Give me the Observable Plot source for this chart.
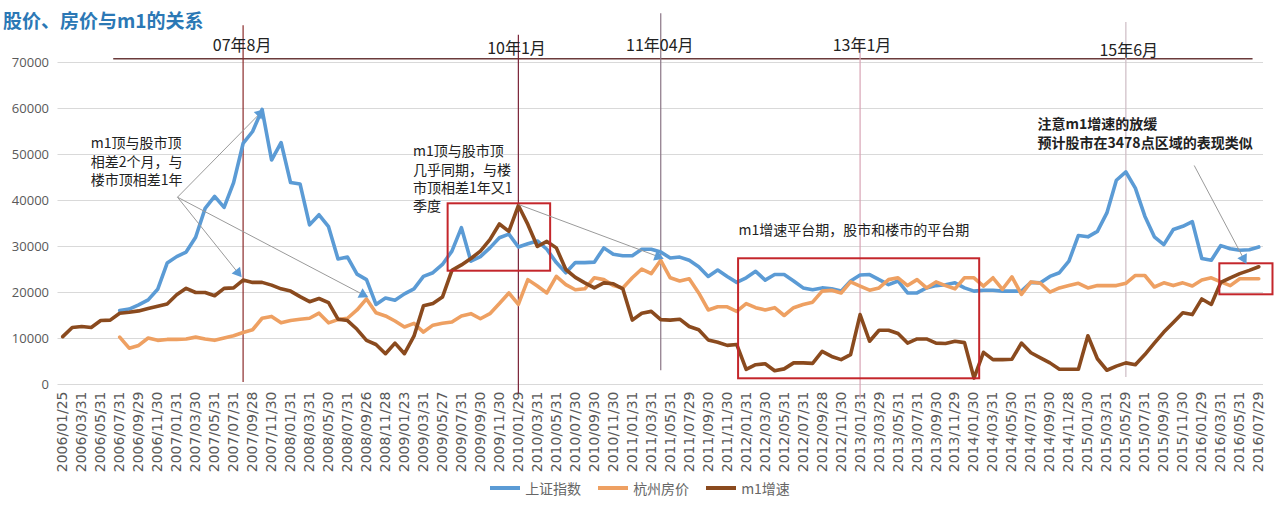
<!DOCTYPE html>
<html><head><meta charset="utf-8">
<script src="https://cdn.jsdelivr.net/npm/d3@7"></script>
<script src="https://cdn.jsdelivr.net/npm/@observablehq/plot@0.6"></script>
<style>
body{margin:0;background:#fff;font-family:"Noto Sans CJK SC","Noto Sans",sans-serif;}
#wrap{position:relative;width:1280px;height:512px;overflow:hidden;}
#title{position:absolute;left:3px;top:6px;font-size:19px;font-weight:bold;color:#2b78b5;line-height:28px;z-index:2;}
#legend{position:absolute;left:0;top:480px;width:1280px;display:flex;justify-content:center;gap:17px;font-size:14px;color:#666;line-height:16px;}
#legend span.item{display:inline-flex;align-items:center;gap:5px;}
#legend i{display:inline-block;width:30px;height:4px;}
</style></head>
<body><div id="wrap"><div id="title">股价、房价与m1的关系</div><div id="chart"></div><div id="legend"></div></div>
<script>
// tick labels (every other month)
const tickLabels = ["2006/01/25","2006/03/31","2006/05/31","2006/07/31","2006/09/29","2006/11/30","2007/01/31","2007/03/30","2007/05/31","2007/07/31","2007/09/28","2007/11/30","2008/01/31","2008/03/31","2008/05/30","2008/07/31","2008/09/26","2008/11/28","2009/01/23","2009/03/31","2009/05/27","2009/07/31","2009/09/30","2009/11/30","2010/01/29","2010/03/31","2010/05/31","2010/07/30","2010/09/30","2010/11/30","2011/01/31","2011/03/31","2011/05/31","2011/07/29","2011/09/30","2011/11/30","2012/01/31","2012/03/30","2012/05/31","2012/07/31","2012/09/28","2012/11/30","2013/01/31","2013/03/29","2013/05/31","2013/07/31","2013/09/30","2013/11/29","2014/01/30","2014/03/31","2014/05/30","2014/07/31","2014/09/30","2014/11/28","2015/01/30","2015/03/31","2015/05/29","2015/07/31","2015/09/30","2015/11/30","2016/01/29","2016/03/31","2016/05/31","2016/07/29"];
const seriesNames = ["上证指数","杭州房价","m1增速"];
const seriesColors = ["#5b9bd5","#eea062","#8a4a1e"];
const yTicks = [0,10000,20000,30000,40000,50000,60000,70000];

// monthly values, 2006/01 .. 2016/07
const shIndex = [null,null,null,null,null,null,
16100,16400,17300,18400,20700,26400,27800,28800,32000,38300,40900,38500,43900,52400,55000,59800,48800,52600,43900,43600,34700,36900,34300,27300,27700,24000,22800,17400,18800,18300,19700,20800,23500,24300,26100,29000,34100,26800,27800,29700,31900,32700,29900,30600,31200,29400,26500,24300,26500,26500,26600,29700,28300,28000,28000,29400,29400,28800,27500,27700,27000,25600,23500,24900,23500,22200,23200,24600,22700,23900,23900,22500,21000,20600,21000,20800,20300,22500,23800,23900,22800,21700,22500,19900,19900,21000,21500,21700,22100,21000,20300,20500,20500,20300,20300,20300,22200,22100,23500,24300,26800,32400,32100,33300,37300,44400,46200,42700,36600,32100,30400,33700,34400,35400,27400,27000,30200,29500,29200,29300,29900];
const hzPrice = [null,null,null,null,null,null,
10300,7900,8500,10100,9600,9800,9800,9900,10300,9900,9600,10100,10600,11300,11900,14400,14800,13400,13900,14200,14400,15500,13400,14100,14400,16200,18600,15600,14900,13800,12500,13300,11400,12900,13300,13600,14900,15400,14300,15400,17600,19900,17400,22800,21400,19900,23500,21700,20600,20800,23200,22800,21500,21000,23200,25100,24100,27000,23200,22500,23000,19900,16200,16900,16900,15900,17600,16700,16200,16700,15000,16700,17400,17900,20300,20500,19900,22300,21400,20500,21000,22800,23200,21500,22800,21000,22300,21500,20800,23200,23200,21400,23200,20700,23400,19600,22300,22000,20100,21000,21500,22000,21000,21500,21500,21500,22000,23700,23700,21200,22100,21500,22100,21400,22700,23200,22300,21500,23000,23000,23000];
const m1Growth = [10400,12400,12600,12400,13900,14000,15500,15700,16000,16500,17000,17500,19500,20900,20000,20000,19300,20900,21000,22700,22200,22200,21600,20800,20300,19100,18000,18700,17800,14200,13900,12000,9600,8700,6700,9000,6700,10500,17100,17600,19000,24800,26000,27400,29000,31500,34900,33300,38900,34800,30000,31100,29700,25000,23300,22100,21000,22100,21900,20800,14000,15500,15900,14100,14000,14200,12600,11900,9700,9200,8500,8700,3300,4300,4500,3000,3400,4700,4700,4600,7200,6100,5400,6500,15200,9400,11800,11800,11100,9000,9900,9900,9000,8900,9400,9100,1400,7000,5400,5400,5500,9000,6900,5800,4700,3300,3300,3300,10600,5600,3100,4000,4700,4300,6500,9000,11400,13500,15600,15200,18600,17400,22200,23200,24100,24800,25600];

// annotations (data units: month index, value)
const periodMarks = [
  {m:19, label:"07年8月", lx:18.9, ly:73700, top:78000, bottom:430, color:"#8b2b2b"},
  {m:48, label:"10年1月", lx:47.8, ly:73000, top:75900, bottom:-2100, color:"#7a2236"},
  {m:63, label:"11年04月", lx:62.9, ly:73700, top:80600, bottom:3000, color:"#8a7585"},
  {m:84, label:"13年1月", lx:84.2, ly:73700, top:74800, bottom:-3200, color:"#d8a3b4"},
  {m:112, label:"15年6月", lx:112.3, ly:72600, top:78700, bottom:1500, color:"#cdbcc4"}
];
const headerLine = [{x1:5.37, x2:125.4, y:70800}];
const notes = [
  {m:2.95, v:54150, text:"m1顶与股市顶\n相差2个月，与\n楼市顶相差1年", w:"normal"},
  {m:36.9, v:52400, text:"m1顶与股市顶\n几乎同期，与楼\n市顶相差1年又1\n季度", w:"normal"},
  {m:102.7, v:58400, text:"注意m1增速的放缓\n预计股市在3478点区域的表现类似", w:"bold"}
];
const midNotes = [{m:71.2, v:33500, text:"m1增速平台期，股市和楼市的平台期"}];
const boxes = [
  {x1:40.6, x2:51.4, y1:24630, y2:39280},
  {x1:71.2, x2:96.6, y1:1240, y2:27330},
  {x1:121.9, x2:127.5, y1:19500, y2:26240}
];
const arrows = [
  {x1:12.09, y1:40720, x2:20.76, y2:58900},
  {x1:12.09, y1:40720, x2:18.44, y2:24350},
  {x1:12.09, y1:40720, x2:31.61, y2:19570},
  {x1:48.02, y1:39130, x2:62.7, y2:27830},
  {x1:119.2, y1:47610, x2:124.4, y2:27390}
];

const W = 1280, H = 480, mL = 57.5, mR = 17, mT = 62, mB = 96;
const xDomain = [-0.5, 126.5], yDomain = [0, 70000];
const xs = d3.scaleLinear(xDomain, [mL, W - mR]);
const ys = d3.scaleLinear(yDomain, [H - mB, mT]);
arrows.forEach(a => {
  const dx = xs(a.x2) - xs(a.x1), dy = ys(a.y2) - ys(a.y1);
  a.rot = Math.atan2(dx, -dy) * 180 / Math.PI;
});

const rows = m1Growth.map((v, i) => ({i, sh: shIndex[i], hz: hzPrice[i], m1: v}));

const chart = Plot.plot({
  width: W, height: H, marginLeft: mL, marginRight: mR, marginTop: mT, marginBottom: mB,
  x: {domain: xDomain, axis: null},
  y: {domain: yDomain, axis: null},
  style: {fontFamily: '"Noto Sans CJK SC", "Noto Sans", sans-serif', background: "transparent", overflow: "visible"},
  marks: [
    Plot.ruleY(yTicks, {stroke: "#d9d9d9", strokeWidth: 1}),
    Plot.axisY({ticks: yTicks, tickSize: 0, tickPadding: 9, tickFormat: d => String(d), fontSize: 13, color: "#595959", fontFamily: '"Open Sans", sans-serif', label: null}),
    Plot.axisX({ticks: d3.range(0, 127, 2), tickFormat: i => tickLabels[i / 2], tickRotate: -90, tickSize: 0, tickPadding: 7, fontSize: 14, color: "#595959", fontFamily: '"DejaVu Sans", sans-serif', label: null}),
    Plot.ruleY(headerLine, {x1: "x1", x2: "x2", y: "y", stroke: "#6b3b3b", strokeWidth: 1.5}),
    Plot.ruleX(periodMarks, {x: "m", y1: "bottom", y2: "top", stroke: "color", strokeWidth: 1.2}),
    Plot.text(periodMarks, {x: "lx", y: "ly", text: "label", fontSize: 16, fill: "#222"}),
    Plot.line(rows, {x: "i", y: "sh", stroke: seriesColors[0], strokeWidth: 3.6, strokeLinejoin: "round"}),
    Plot.line(rows, {x: "i", y: "hz", stroke: seriesColors[1], strokeWidth: 3.6, strokeLinejoin: "round"}),
    Plot.line(rows, {x: "i", y: "m1", stroke: seriesColors[2], strokeWidth: 3.6, strokeLinejoin: "round"}),
    Plot.rect(boxes, {x1: "x1", x2: "x2", y1: "y1", y2: "y2", fill: "none", stroke: "#c4262b", strokeWidth: 2}),
    Plot.link(arrows, {x1: "x1", y1: "y1", x2: "x2", y2: "y2", stroke: "#9a9a9a", strokeWidth: 1}),
    Plot.dot(arrows, {x: "x2", y: "y2", symbol: "triangle", r: 4, fill: "#5b9bd5", stroke: "none", rotate: "rot"}),
    Plot.text(notes.filter(d => d.w === "normal"), {x: "m", y: "v", text: "text", textAnchor: "start", lineAnchor: "top", lineHeight: 1.3, fontSize: 14, fill: "#222"}),
    Plot.text(notes.filter(d => d.w === "bold"), {x: "m", y: "v", text: "text", textAnchor: "start", lineAnchor: "top", lineHeight: 1.36, fontSize: 14, fontWeight: "bold", fill: "#222"}),
    Plot.text(midNotes, {x: "m", y: "v", text: "text", textAnchor: "start", fontSize: 14, fill: "#222"})
  ]
});
document.getElementById("chart").appendChild(chart);

const legend = document.getElementById("legend");
seriesNames.forEach((n, k) => {
  const s = document.createElement("span");
  s.className = "item";
  s.innerHTML = `<i style="background:${seriesColors[k]}"></i>${n}`;
  legend.appendChild(s);
});
</script></body></html>
